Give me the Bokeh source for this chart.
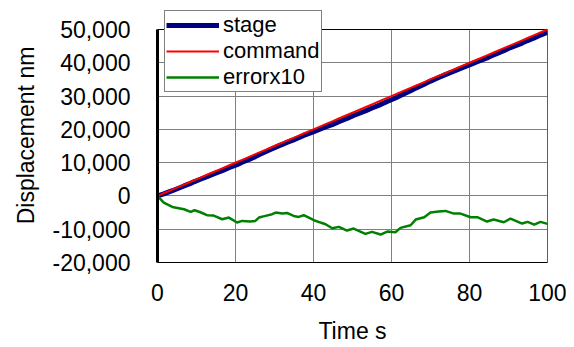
from bokeh.plotting import figure
from bokeh.models import NumeralTickFormatter, FixedTicker, Legend, LegendItem, Range1d
from bokeh.embed import file_html
from bokeh.resources import INLINE

time_s = [0, 1.6, 3.8, 6.8, 8.5, 9.5, 11, 12.7, 14.4, 16.6, 18.3, 20.4, 21.7, 23.8,
          25.1, 26, 27.7, 29.4, 30.3, 32, 33.2, 34.9, 36.2, 37.5, 40.1, 41.8, 43.1,
          44.8, 46.5, 48.6, 50.3, 53.3, 55, 57.2, 58.9, 61, 62.3, 64.9, 66.2, 68.4,
          70, 72.1, 73.8, 76, 77.7, 80.3, 82, 84.5, 86.2, 88.8, 90.5, 93.5, 94.9,
          96.6, 98.2, 100]
errorx10 = [0, -2000, -3300, -4000, -4800, -4300, -4900, -5800, -5900, -7000, -6500,
            -8000, -7500, -7700, -7500, -6500, -6000, -5500, -5000, -5300, -5100,
            -6000, -6300, -5800, -7300, -8000, -8500, -9700, -9300, -10400, -9800,
            -11400, -10800, -11600, -10700, -10900, -9600, -8800, -7100, -6400, -5000,
            -4700, -4500, -5300, -5300, -6400, -6400, -7700, -7100, -7900, -6800,
            -8300, -7800, -8600, -7800, -8400]
command_nm = [0, 800, 1900, 3400, 4250, 4750, 5500, 6350, 7200, 8300, 9150, 10200,
              10850, 11900, 12550, 13000, 13850, 14700, 15150, 16000, 16600, 17450,
              18100, 18750, 20050, 20900, 21550, 22400, 23250, 24300, 25150, 26650,
              27500, 28600, 29450, 30500, 31150, 32450, 33100, 34200, 35000, 36050,
              36900, 38000, 38850, 40150, 41000, 42250, 43100, 44400, 45250, 46750,
              47450, 48300, 49100, 50000]
stage_nm = [0, 600, 1570, 3000, 3770, 4320, 5010, 5770, 6610, 7600, 8500, 9400,
            10100, 11130, 11800, 12350, 13250, 14150, 14650, 15470, 16090, 16850,
            17470, 18170, 19320, 20100, 20700, 21430, 22320, 23260, 24170, 25510,
            26420, 27440, 28380, 29410, 30190, 31570, 32390, 33560, 34500, 35580,
            36450, 37470, 38320, 39510, 40360, 41480, 42390, 43610, 44570, 45920,
            46670, 47440, 48320, 49160]

x_ticks = [0, 20, 40, 60, 80, 100]
y_ticks = [-20000, -10000, 0, 10000, 20000, 30000, 40000, 50000]

FONT = "Liberation Sans"

# frame extends 21 px above the 50,000 line so the legend (which sits partly
# above the plot area in the reference) is not clipped
y_lo, y_hi = y_ticks[0], y_ticks[-1]
px_per_unit = 233 / (y_hi - y_lo)
y_top = y_hi + 21 / px_per_unit

p = figure(frame_width=390, frame_height=254, output_backend="svg", toolbar_location=None,
           x_range=Range1d(x_ticks[0], x_ticks[-1]), y_range=Range1d(y_lo, y_top))
p.min_border_left = 157
p.min_border_right = 19
p.min_border_top = 8
p.min_border_bottom = 10
p.background_fill_color = "white"
p.border_fill_color = "white"
p.outline_line_color = None

# vertical gridlines limited to the plot area
p.xgrid.visible = False
p.segment(x0=x_ticks, y0=[y_lo] * len(x_ticks), x1=x_ticks, y1=[y_hi] * len(x_ticks),
          line_color="#808080", line_width=1)
p.ygrid.grid_line_color = "#808080"
p.ygrid.grid_line_width = 1

# plot-area border
p.quad(left=[x_ticks[0]], right=[x_ticks[-1]], bottom=[y_lo], top=[y_hi],
       fill_color=None, line_color="black", line_width=1)

r_stage = p.line(time_s, stage_nm, line_color="#000080", line_width=5)
r_cmd = p.line(time_s, command_nm, line_color="#ff0000", line_width=2)
r_err = p.line(time_s, errorx10, line_color="#008000", line_width=2.5)

for ax in (p.xaxis[0], p.yaxis[0]):
    ax.major_label_text_font = FONT
    ax.major_label_text_font_size = "23px"
    ax.major_label_text_color = "black"
    ax.axis_label_text_font = FONT
    ax.axis_label_text_font_size = "23px"
    ax.axis_label_text_font_style = "normal"
    ax.axis_label_text_color = "black"
    ax.major_tick_line_color = None
    ax.minor_tick_line_color = None
    ax.major_tick_out = 0
    ax.major_tick_in = 0

p.xaxis[0].ticker = FixedTicker(ticks=x_ticks)
p.yaxis[0].ticker = FixedTicker(ticks=y_ticks)
p.yaxis[0].bounds = (y_lo, y_hi)
p.yaxis[0].formatter = NumeralTickFormatter(format="0,0")
p.xaxis[0].axis_label = "Time s"
p.yaxis[0].axis_label = "Displacement nm"
p.xaxis[0].major_label_standoff = 21
p.yaxis[0].major_label_standoff = 27
p.xaxis[0].axis_label_standoff = 14
p.yaxis[0].axis_label_standoff = 10
p.xaxis[0].axis_line_color = "black"
p.xaxis[0].axis_line_width = 1
p.yaxis[0].axis_line_color = "black"
p.yaxis[0].axis_line_width = 3

legend = Legend(items=[LegendItem(label="stage", renderers=[r_stage]),
                       LegendItem(label="command", renderers=[r_cmd]),
                       LegendItem(label="errorx10", renderers=[r_err])],
                location=(7, 170))
legend.label_text_font = FONT
legend.label_text_font_size = "22px"
legend.label_text_color = "black"
legend.glyph_width = 53
legend.glyph_height = 26
legend.label_height = 26
legend.label_standoff = 4
legend.spacing = 0
legend.padding = 1
legend.margin = 0
legend.border_line_color = "black"
legend.border_line_width = 1
legend.background_fill_color = "white"
legend.background_fill_alpha = 1
p.add_layout(legend, "center")

open("out.html", "w").write(file_html(p, INLINE))
